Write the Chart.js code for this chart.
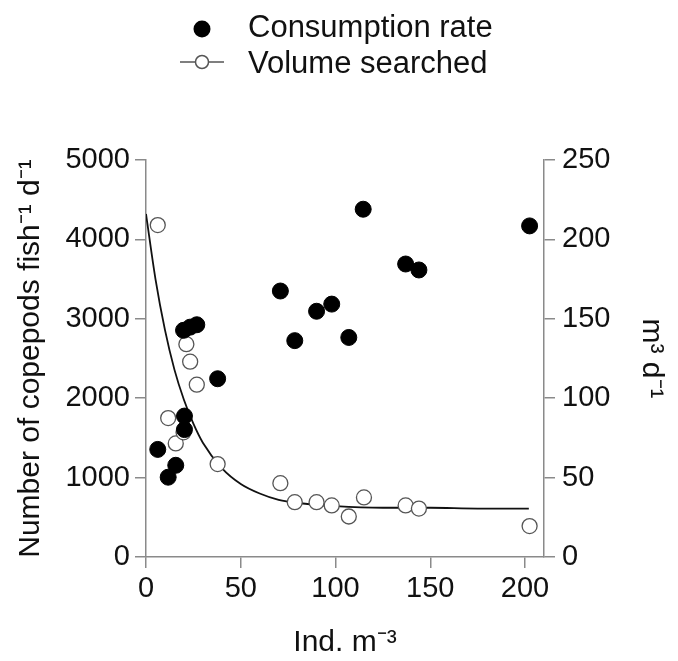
<!DOCTYPE html>
<html>
<head>
<meta charset="utf-8">
<script src="https://cdn.jsdelivr.net/npm/chart.js@4.4.0/dist/chart.umd.min.js"></script>
<style>
  html, body { margin: 0; padding: 0; background: #fff; }
  #wrap { width: 678px; height: 661px; }
</style>
</head>
<body>
<div id="wrap"><canvas id="chart" width="678" height="661"></canvas></div>
<script>
// copepod density (Ind. m-3) vs consumption rate (left axis)
const consumptionX = [6.2, 11.7, 15.7, 20.3, 20.3, 19.8, 23.3, 26.8, 37.8, 70.9, 78.5, 90, 98, 107, 114.6, 137, 144, 202.4];
const consumptionY = [1355, 1005, 1155, 1605, 1775, 2855, 2895, 2925, 2245, 3350, 2725, 3095, 3185, 2765, 4380, 3690, 3615, 4170];

// volume searched (right axis, m3 d-1)
const volumeX = [6.2, 11.7, 15.7, 19.8, 21.3, 23.3, 26.8, 37.8, 70.9, 78.5, 90, 98, 107, 115, 137, 144, 202.4];
const volumeY = [209, 87.5, 71.5, 78.5, 134, 123, 108.5, 58.5, 46.5, 34.5, 34.5, 32.5, 25.5, 37.5, 32.5, 30.5, 19.5];

// fitted curve for volume searched
const fitX = [0, 5, 10, 15, 20, 25, 30, 40, 50, 60, 70, 80, 100, 125, 150, 175, 202];
const fitY = [216, 175, 143, 118, 99, 84, 72, 56, 46, 40, 36, 34, 32, 31, 31, 30.5, 30.5];

const xTicks = [0, 50, 100, 150, 200];
const leftTicks = [0, 1000, 2000, 3000, 4000, 5000];
const rightTicks = [0, 50, 100, 150, 200, 250];

const FONT = 'Liberation Sans, Arial, sans-serif';
const AXIS_GRAY = '#8a8a8a';
const TEXT = '#111';

const toPoints = (xs, ys) => xs.map((x, i) => ({ x: x, y: ys[i] }));

// two stacked legend rows above the plot, like the original figure
const legendRows = {
  id: 'legendRows',
  afterDraw(chart) {
    const ctx = chart.ctx;
    const ds = chart.data.datasets;
    ctx.save();
    ctx.font = '31px ' + FONT;
    ctx.textBaseline = 'alphabetic';
    ctx.textAlign = 'left';

    // filled dot
    ctx.beginPath();
    ctx.arc(202, 29, 8.5, 0, Math.PI * 2);
    ctx.fillStyle = '#000';
    ctx.fill();
    ctx.fillStyle = TEXT;
    ctx.fillText(ds[0].label, 248, 37);

    // line with open circle
    ctx.strokeStyle = '#555';
    ctx.lineWidth = 1.5;
    ctx.beginPath();
    ctx.moveTo(180, 62);
    ctx.lineTo(224, 62);
    ctx.stroke();
    ctx.beginPath();
    ctx.arc(202, 62, 6.5, 0, Math.PI * 2);
    ctx.fillStyle = '#fff';
    ctx.fill();
    ctx.stroke();
    ctx.fillStyle = TEXT;
    ctx.fillText(ds[1].label, 248, 73);
    ctx.restore();
  }
};

const tickFont = { family: FONT, size: 29 };
const titleFont = { family: FONT, size: 30 };
const plain = v => String(v);

new Chart(document.getElementById('chart'), {
  type: 'scatter',
  data: {
    datasets: [
      {
        label: 'Consumption rate',
        data: toPoints(consumptionX, consumptionY),
        yAxisID: 'y',
        pointRadius: 8,
        pointBorderWidth: 1,
        pointBackgroundColor: '#000',
        pointBorderColor: '#000',
        clip: false
      },
      {
        label: 'Volume searched',
        data: toPoints(volumeX, volumeY),
        yAxisID: 'y1',
        pointRadius: 7.5,
        pointBorderWidth: 1.3,
        pointBackgroundColor: '#fff',
        pointBorderColor: '#555',
        clip: false
      },
      {
        label: 'fit',
        data: toPoints(fitX, fitY),
        yAxisID: 'y1',
        showLine: true,
        pointRadius: 0,
        borderColor: '#111',
        borderWidth: 1.8,
        cubicInterpolationMode: 'monotone',
        fill: false
      }
    ]
  },
  plugins: [legendRows],
  options: {
    responsive: false,
    animation: false,
    devicePixelRatio: 1,
    layout: { padding: { top: 160, left: 0, right: 0, bottom: 0 } },
    plugins: {
      legend: { display: false },
      tooltip: { enabled: false }
    },
    scales: {
      x: {
        type: 'linear',
        min: 0,
        max: 210,
        afterBuildTicks(s) { s.ticks = xTicks.map(v => ({ value: v })); },
        afterFit(s) { s.height = 104; },
        ticks: { color: TEXT, font: tickFont, padding: 4, maxRotation: 0, callback: plain },
        grid: { drawOnChartArea: false, drawTicks: true, tickLength: 11, color: AXIS_GRAY, lineWidth: 1.5 },
        border: { display: true, color: AXIS_GRAY, width: 1.5 },
        title: { display: true, text: 'Ind. m⁻³', color: TEXT, font: titleFont, padding: { top: 0, bottom: 0 } }
      },
      y: {
        type: 'linear',
        position: 'left',
        min: 0,
        max: 5000,
        afterBuildTicks(s) { s.ticks = leftTicks.map(v => ({ value: v })); },
        afterFit(s) { s.width = 146; },
        ticks: { color: TEXT, font: tickFont, padding: 5, callback: plain },
        grid: { drawOnChartArea: false, drawTicks: true, tickLength: 11, color: AXIS_GRAY, lineWidth: 1.5 },
        border: { display: true, color: AXIS_GRAY, width: 1.5 },
        title: { display: true, text: 'Number of copepods fish⁻¹ d⁻¹', color: TEXT, font: titleFont, padding: { top: 13, bottom: 0 } }
      },
      y1: {
        type: 'linear',
        position: 'right',
        min: 0,
        max: 250,
        afterBuildTicks(s) { s.ticks = rightTicks.map(v => ({ value: v })); },
        afterFit(s) { s.width = 134; },
        ticks: { color: TEXT, font: tickFont, padding: 7, callback: plain },
        grid: { drawOnChartArea: false, drawTicks: true, tickLength: 11, color: AXIS_GRAY, lineWidth: 1.5 },
        border: { display: true, color: AXIS_GRAY, width: 1.5 },
        title: { display: true, text: 'm³ d⁻¹', color: TEXT, font: titleFont, padding: { top: 9, bottom: 0 } }
      }
    }
  }
});
</script>
</body>
</html>
